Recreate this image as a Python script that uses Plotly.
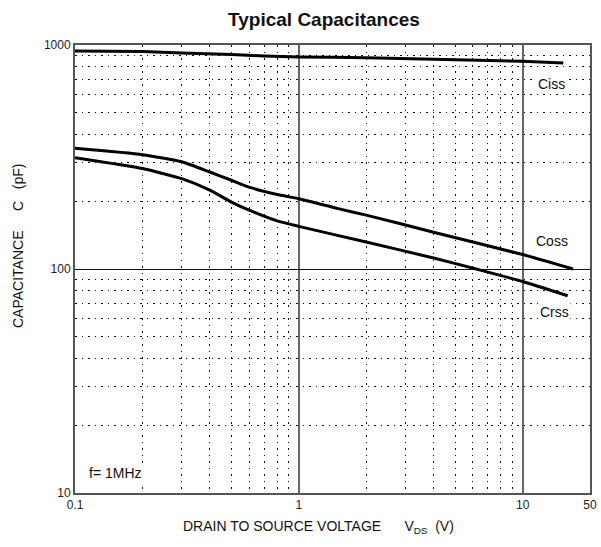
import plotly.graph_objects as go
import math

# ---- data ----
ciss_x = [0.1, 0.2, 0.3, 0.5, 0.7, 1, 2, 4, 10, 15.2]
ciss_y = [940, 935, 921, 906, 893, 884, 878, 863, 846, 831]

coss_x = [0.1, 0.2, 0.3, 0.4, 0.5, 0.6, 0.8, 1, 1.5, 2, 4, 10, 16.8]
coss_y = [346, 324, 301, 271, 249, 232, 215, 206, 186, 174, 146, 116, 100]

crss_x = [0.1, 0.2, 0.3, 0.4, 0.5, 0.6, 0.8, 1, 2, 4, 6.2, 10, 15.9]
crss_y = [314, 281, 253, 225, 199, 183, 164, 155, 132, 112, 100, 88, 76]

x_tickvals = [0.1, 1, 10, 20]
x_ticktext = ["0.1", "1", "10", "50"]
x_minor = [0.2, 0.3, 0.4, 0.5, 0.6, 0.7, 0.8, 0.9, 2, 3, 4, 5, 6, 7, 8, 9]
y_tickvals = [10, 100, 1000]
y_ticktext = ["10", "100", "1000"]
y_minor = [20, 30, 40, 50, 60, 70, 80, 90, 200, 300, 400, 500, 600, 700, 800, 900]

FONT = "Liberation Sans, Arial, sans-serif"

fig = go.Figure()
for xs, ys, name in [(ciss_x, ciss_y, "Ciss"), (coss_x, coss_y, "Coss"), (crss_x, crss_y, "Crss")]:
    fig.add_trace(go.Scatter(x=xs, y=ys, mode="lines", name=name,
                             line=dict(color="black", width=3, shape="spline", smoothing=0.5),
                             showlegend=False, hoverinfo="skip"))

minor_style = dict(showgrid=True, griddash="1.5px,5px", gridcolor="#111", gridwidth=1, ticks="")

fig.update_xaxes(type="log", range=[-1, math.log10(20)],
                 tickvals=x_tickvals, ticktext=x_ticktext,
                 showgrid=True, gridcolor="#666", gridwidth=2,
                 showline=True, linecolor="#555", linewidth=2, mirror=True,
                 ticks="", tickfont=dict(family=FONT, size=12, color="#222"),
                 minor=dict(tickvals=x_minor, **minor_style),
                 zeroline=False, automargin=False)
fig.update_yaxes(type="log", range=[1, 3],
                 tickvals=y_tickvals, ticktext=y_ticktext,
                 showgrid=True, gridcolor="#111", gridwidth=1,
                 showline=True, linecolor="#555", linewidth=2, mirror=True,
                 ticks="", tickfont=dict(family=FONT, size=12, color="#222"),
                 minor=dict(tickvals=y_minor, **minor_style),
                 zeroline=False, automargin=False)

NB = "\u00a0"
annotations = [
    dict(x=1.129, y=2.828, text="Ciss", xref="x", yref="y", showarrow=False,
         font=dict(family=FONT, size=14, color="#111"), bgcolor="white"),
    dict(x=1.131, y=2.125, text="Coss", xref="x", yref="y", showarrow=False,
         font=dict(family=FONT, size=14, color="#111"), bgcolor="white"),
    dict(x=1.144, y=1.806, text="Crss", xref="x", yref="y", showarrow=False,
         font=dict(family=FONT, size=14, color="#111"), bgcolor="white"),
    dict(x=-0.945, y=1.091, text="f=" + NB + "1MHz", xref="x", yref="y", xanchor="left",
         showarrow=False, font=dict(family=FONT, size=14, color="#111"), bgcolor="white"),
]

L, R, T, B = 75, 11, 45, 54
W, H = 601, 547
pw, ph = W - L - R, H - T - B

def px(xp):
    return (xp - L) / pw

def py(yp):
    return 1 - (yp - T) / ph

annotations += [
    dict(x=px(18), y=py(246), xref="paper", yref="paper", xanchor="center", yanchor="middle",
         text="CAPACITANCE" + NB*5 + "C" + NB*3 + "(pF)",
         showarrow=False, textangle=-90, font=dict(family=FONT, size=14, color="#111")),
    dict(x=px(181), y=py(527), xref="paper", yref="paper", xanchor="left", yanchor="middle",
         text="DRAIN TO SOURCE VOLTAGE" + NB*6 + "V<sub>DS</sub>" + NB*2 + "(V)",
         showarrow=False, font=dict(family=FONT, size=14, color="#111")),
]

fig.update_layout(
    width=W, height=H,
    margin=dict(l=L, r=R, t=T, b=B, autoexpand=False),
    paper_bgcolor="white", plot_bgcolor="white",
    title=dict(text="<b>Typical Capacitances</b>", x=324 / W, xanchor="center",
               y=1 - 19 / H, yanchor="middle",
               font=dict(family=FONT, size=19, color="#111")),
    annotations=annotations,
)

fig.write_html("out.html", config={"displayModeBar": False, "responsive": False},
               post_script="document.body.style.margin='0';document.body.style.overflow='hidden';")
